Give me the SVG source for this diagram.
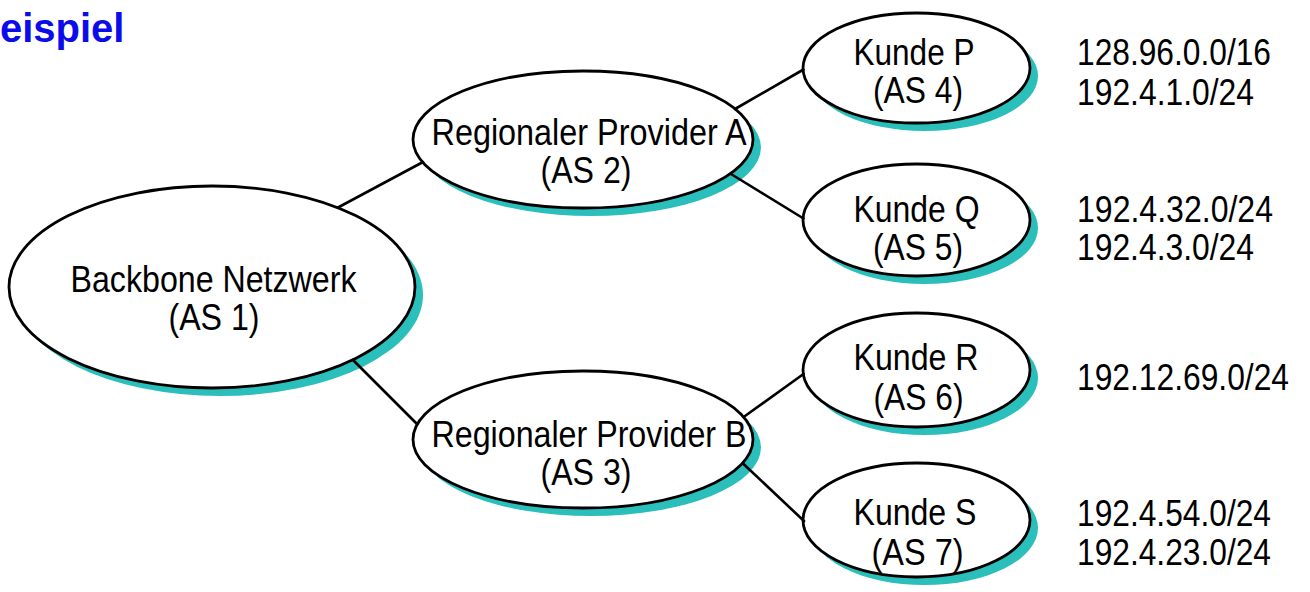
<svg xmlns="http://www.w3.org/2000/svg" width="1310" height="592" viewBox="0 0 1310 592">
  <style>
    .shadow { fill: #2bbfbc; stroke: none; }
    .body { fill: #ffffff; stroke: #000000; stroke-width: 2.8; }
    .lbl { font-family: "Liberation Sans", Arial, sans-serif; font-size: 36px; fill: #000000; text-anchor: middle; }
    .net { font-family: "Liberation Sans", Arial, sans-serif; font-size: 36px; fill: #000000; }
    .title { font-family: "Liberation Sans", Arial, sans-serif; font-size: 40px; font-weight: bold; fill: #0c0ceb; }
    .link { stroke: #000000; stroke-width: 2.6; fill: none; stroke-linecap: round; }
  </style>

  <text class="title" x="-29" y="42">Beispiel</text>

  <!-- AS nodes: shadow, body, two-line label -->
  <g id="as1-backbone">
    <ellipse class="shadow" cx="220" cy="295" rx="203" ry="101"/>
    <ellipse class="body" cx="212" cy="287" rx="203" ry="101"/>
    <text class="lbl" x="213.5" y="292" textLength="286" lengthAdjust="spacingAndGlyphs">Backbone Netzwerk</text>
    <text class="lbl" x="214" y="330" textLength="91" lengthAdjust="spacingAndGlyphs">(AS 1)</text>
  </g>

  <g id="as2-provider-a">
    <ellipse class="shadow" cx="591" cy="147.5" rx="170" ry="68.5"/>
    <ellipse class="body" cx="583" cy="139.5" rx="170" ry="68.5"/>
    <text class="lbl" x="589" y="145" textLength="315" lengthAdjust="spacingAndGlyphs">Regionaler Provider A</text>
    <text class="lbl" x="586" y="183" textLength="91" lengthAdjust="spacingAndGlyphs">(AS 2)</text>
  </g>

  <g id="as3-provider-b">
    <ellipse class="shadow" cx="591" cy="447.5" rx="170" ry="68.5"/>
    <ellipse class="body" cx="583" cy="439.5" rx="170" ry="68.5"/>
    <text class="lbl" x="589" y="447" textLength="315" lengthAdjust="spacingAndGlyphs">Regionaler Provider B</text>
    <text class="lbl" x="586" y="485" textLength="91" lengthAdjust="spacingAndGlyphs">(AS 3)</text>
  </g>

  <g id="as4-kunde-p">
    <ellipse class="shadow" cx="924.5" cy="76" rx="113.5" ry="55"/>
    <ellipse class="body" cx="916.5" cy="68" rx="113.5" ry="55"/>
    <text class="lbl" x="914" y="65" textLength="121" lengthAdjust="spacingAndGlyphs">Kunde P</text>
    <text class="lbl" x="918" y="103" textLength="90" lengthAdjust="spacingAndGlyphs">(AS 4)</text>
  </g>

  <g id="as5-kunde-q">
    <ellipse class="shadow" cx="924.5" cy="228" rx="113.5" ry="56"/>
    <ellipse class="body" cx="916.5" cy="220" rx="113.5" ry="56"/>
    <text class="lbl" x="916.5" y="222" textLength="126" lengthAdjust="spacingAndGlyphs">Kunde Q</text>
    <text class="lbl" x="918" y="260" textLength="90" lengthAdjust="spacingAndGlyphs">(AS 5)</text>
  </g>

  <g id="as6-kunde-r">
    <ellipse class="shadow" cx="924.5" cy="378" rx="113.5" ry="57"/>
    <ellipse class="body" cx="916.5" cy="370" rx="113.5" ry="57"/>
    <text class="lbl" x="916" y="370" textLength="125" lengthAdjust="spacingAndGlyphs">Kunde R</text>
    <text class="lbl" x="918.5" y="410" textLength="90" lengthAdjust="spacingAndGlyphs">(AS 6)</text>
  </g>

  <g id="as7-kunde-s">
    <ellipse class="shadow" cx="924.5" cy="528" rx="113.5" ry="57"/>
    <ellipse class="body" cx="916.5" cy="520" rx="113.5" ry="57"/>
    <text class="lbl" x="915" y="525" textLength="123" lengthAdjust="spacingAndGlyphs">Kunde S</text>
    <text class="lbl" x="917.5" y="565" textLength="92" lengthAdjust="spacingAndGlyphs">(AS 7)</text>
  </g>

  <!-- peering links between autonomous systems -->
  <g id="links">
    <line class="link" x1="338" y1="207.5" x2="423" y2="162"/>
    <line class="link" x1="353" y1="360" x2="417" y2="424"/>
    <line class="link" x1="735" y1="109" x2="803.5" y2="69.5"/>
    <line class="link" x1="731" y1="174" x2="803.5" y2="218.5"/>
    <line class="link" x1="745" y1="416" x2="803.5" y2="374"/>
    <line class="link" x1="743" y1="463.5" x2="804" y2="521"/>
  </g>

  <!-- announced address prefixes per customer AS -->
  <g id="prefixes">
    <text class="net" x="1077" y="65" textLength="194" lengthAdjust="spacingAndGlyphs">128.96.0.0/16</text>
    <text class="net" x="1077" y="105" textLength="177" lengthAdjust="spacingAndGlyphs">192.4.1.0/24</text>
    <text class="net" x="1077" y="222" textLength="196" lengthAdjust="spacingAndGlyphs">192.4.32.0/24</text>
    <text class="net" x="1077" y="260" textLength="177" lengthAdjust="spacingAndGlyphs">192.4.3.0/24</text>
    <text class="net" x="1077" y="390" textLength="212" lengthAdjust="spacingAndGlyphs">192.12.69.0/24</text>
    <text class="net" x="1077" y="526" textLength="194" lengthAdjust="spacingAndGlyphs">192.4.54.0/24</text>
    <text class="net" x="1077" y="565" textLength="194" lengthAdjust="spacingAndGlyphs">192.4.23.0/24</text>
  </g>
</svg>
